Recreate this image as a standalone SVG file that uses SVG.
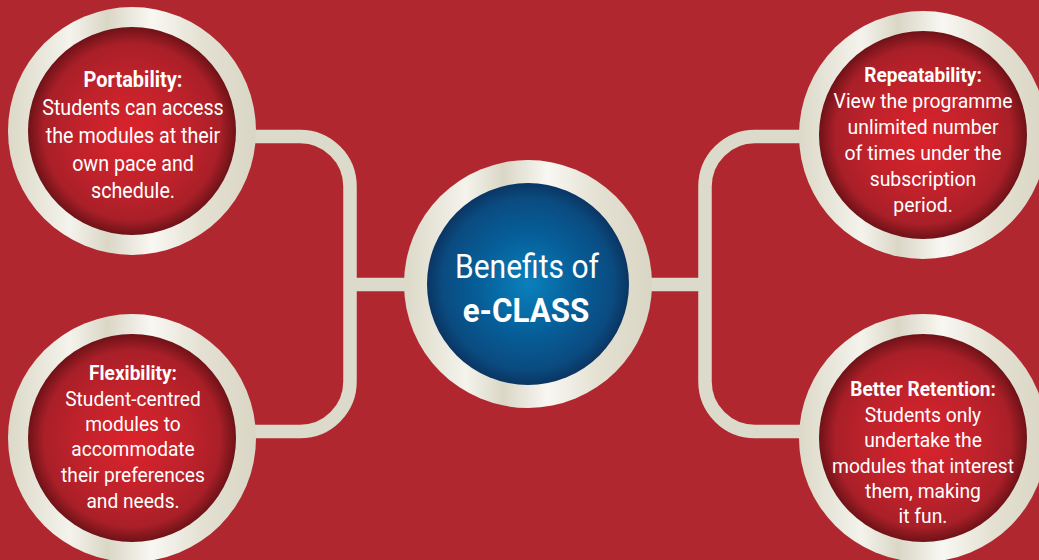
<svg xmlns="http://www.w3.org/2000/svg" width="1039" height="560" viewBox="0 0 1039 560">
  <defs>
    <linearGradient id="ring" x1="0" y1="0" x2="1" y2="0">
      <stop offset="0" stop-color="#DCD9C8"/>
      <stop offset="0.25" stop-color="#F4F3EC"/>
      <stop offset="0.4" stop-color="#DAD7C6"/>
      <stop offset="0.58" stop-color="#F8F7F2"/>
      <stop offset="0.78" stop-color="#E4E1D3"/>
      <stop offset="1" stop-color="#D9D6C5"/>
    </linearGradient>
    <radialGradient id="red" cx="0.5" cy="0.5" r="0.5" fx="0.5" fy="0.52">
      <stop offset="0" stop-color="#DB232B"/>
      <stop offset="0.55" stop-color="#BF222B"/>
      <stop offset="0.85" stop-color="#A91F28"/>
      <stop offset="1" stop-color="#6E1217"/>
    </radialGradient>
    <radialGradient id="blue" cx="0.5" cy="0.5" r="0.5">
      <stop offset="0" stop-color="#0A80BC"/>
      <stop offset="0.5" stop-color="#065E98"/>
      <stop offset="0.85" stop-color="#0A4B80"/>
      <stop offset="1" stop-color="#0A3563"/>
    </radialGradient>
  </defs>
  <style>
    .bg { fill: #B0272F; }
    .conn { fill: none; stroke: #DCDACA; stroke-width: 13.5; }
    .ring { fill: url(#ring); }
    .red { fill: url(#red); }
    .blue { fill: url(#blue); }
    text { font-family: Roboto, "Liberation Sans", sans-serif; fill: #FFFFFF; text-anchor: middle; }
    .t { font-size: 20.5px; }
    .tb { font-size: 20.5px; font-weight: bold; }
    .big { font-size: 21.5px; }
    .bigb { font-size: 21.5px; font-weight: bold; }
    .c1 { font-size: 33px; }
    .c2 { font-size: 33px; font-weight: bold; }
  </style>
  <rect class="bg" x="0" y="0" width="1039" height="560"/>

  <g id="connectors">
    <path class="conn" d="M 250 136.5 H 300 A 50 50 0 0 1 350 186.5 V 381.5 A 50 50 0 0 1 300 431.5 H 250"/>
    <path class="conn" d="M 350 284.5 H 412"/>
    <path class="conn" d="M 810 136.5 H 755 A 50 50 0 0 0 705 186.5 V 381.5 A 50 50 0 0 0 755 431.5 H 810"/>
    <path class="conn" d="M 705 284.5 H 644"/>
  </g>

  <g id="portability">
    <circle class="ring" cx="132" cy="131" r="124"/>
    <circle class="red" cx="132" cy="131" r="104"/>
    <text class="bigb" transform="translate(133 0) scale(0.93 1)" x="0" y="87">Portability:</text>
    <g transform="translate(133 0) scale(0.915 1)">
      <text class="big" x="0" y="115">Students can access</text>
      <text class="big" x="0" y="143">the modules at their</text>
      <text class="big" x="0" y="171">own pace and</text>
      <text class="big" x="0" y="198">schedule.</text>
    </g>
  </g>

  <g id="flexibility">
    <circle class="ring" cx="132" cy="438" r="124"/>
    <circle class="red" cx="132" cy="438" r="104"/>
    <text class="tb" transform="translate(133 0) scale(0.93 1)" x="0" y="380">Flexibility:</text>
    <g transform="translate(133 0) scale(0.935 1)">
      <text class="t" x="0" y="406">Student-centred</text>
      <text class="t" x="0" y="431">modules to</text>
      <text class="t" x="0" y="456">accommodate</text>
      <text class="t" x="0" y="482">their preferences</text>
      <text class="t" x="0" y="508">and needs.</text>
    </g>
  </g>

  <g id="center">
    <circle class="ring" cx="528" cy="284" r="124"/>
    <circle class="blue" cx="528" cy="284" r="101"/>
    <text class="c1" transform="translate(527 0) scale(0.91 1)" x="0" y="278">Benefits of</text>
    <text class="c2" transform="translate(526 0) scale(0.95 1)" x="0" y="322">e-CLASS</text>
  </g>

  <g id="repeatability">
    <circle class="ring" cx="923" cy="135" r="124"/>
    <circle class="red" cx="923" cy="135" r="104"/>
    <text class="tb" transform="translate(923 0) scale(0.93 1)" x="0" y="82">Repeatability:</text>
    <g transform="translate(923 0) scale(0.945 1)">
      <text class="t" x="0" y="108">View the programme</text>
      <text class="t" x="0" y="134">unlimited number</text>
      <text class="t" x="0" y="160">of times under the</text>
      <text class="t" x="0" y="186">subscription</text>
      <text class="t" x="0" y="212">period.</text>
    </g>
  </g>

  <g id="retention">
    <circle class="ring" cx="923" cy="438" r="124"/>
    <circle class="red" cx="923" cy="438" r="104"/>
    <text class="tb" transform="translate(923 0) scale(0.93 1)" x="0" y="396">Better Retention:</text>
    <g transform="translate(923 0) scale(0.94 1)">
      <text class="t" x="0" y="422">Students only</text>
      <text class="t" x="0" y="447">undertake the</text>
      <text class="t" x="0" y="473">modules that interest</text>
      <text class="t" x="0" y="498">them, making</text>
      <text class="t" x="0" y="523">it fun.</text>
    </g>
  </g>
</svg>
